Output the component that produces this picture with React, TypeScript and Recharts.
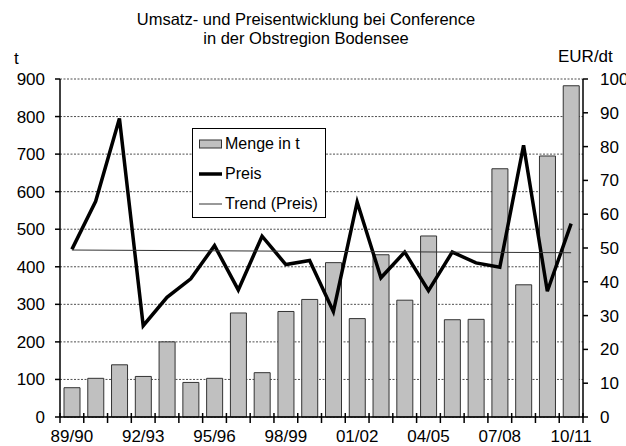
import {
  ComposedChart,
  Bar,
  Line,
  XAxis,
  YAxis,
  CartesianGrid,
  Legend,
} from 'recharts';

const SEASONS = [
  '89/90', '90/91', '91/92', '92/93', '93/94', '94/95', '95/96', '96/97',
  '97/98', '98/99', '99/00', '00/01', '01/02', '02/03', '03/04', '04/05',
  '05/06', '06/07', '07/08', '08/09', '09/10', '10/11',
];

// Menge in t (left axis)
const MENGE = [
  78, 103, 139, 108, 200, 92, 103, 277, 118, 281, 313, 411, 262, 432, 311,
  482, 259, 260, 661, 352, 695, 882,
];

// Preis in EUR/dt (right axis)
const PREIS = [
  49.6, 63.8, 88.3, 27.0, 35.4, 40.9, 50.7, 37.6, 53.5, 45.1, 46.3, 31.2,
  63.6, 41.2, 48.8, 37.4, 48.8, 45.6, 44.3, 80.4, 37.2, 57.2,
];

// linear trend of the price, read at its two ends
const TREND_START = 49.4;
const TREND_END = 48.6;

const LEFT_TICKS = [0, 100, 200, 300, 400, 500, 600, 700, 800, 900];
const RIGHT_TICKS = [0, 10, 20, 30, 40, 50, 60, 70, 80, 90, 100];

const FONT = '"Liberation Sans", Arial, sans-serif';
const PLOT_LEFT = 60;
const PLOT_RIGHT = 583;
const BAND = (PLOT_RIGHT - PLOT_LEFT) / SEASONS.length;

const data = SEASONS.map((season, i) => ({
  season,
  menge: MENGE[i],
  preis: PREIS[i],
  trend: i === 0 ? TREND_START : i === SEASONS.length - 1 ? TREND_END : null,
}));

function SeasonTick(props: any) {
  const { x, y, index, payload } = props;
  const last = index === SEASONS.length - 1;
  return (
    <g>
      <line x1={x - BAND / 2} x2={x - BAND / 2} y1={y - 4} y2={y + 6} stroke="#000" strokeWidth={1.5} />
      {last && (
        <line x1={x + BAND / 2} x2={x + BAND / 2} y1={y - 4} y2={y + 6} stroke="#000" strokeWidth={1.5} />
      )}
      {index % 3 === 0 && (
        <text x={x} y={y + 25} textAnchor="middle" fontSize={17} fontFamily={FONT} fill="#000">
          {payload.value}
        </text>
      )}
    </g>
  );
}

function LegendBox() {
  const row = { display: 'flex', alignItems: 'center', height: 30 } as const;
  return (
    <div
      style={{
        width: 134,
        height: 90,
        boxSizing: 'border-box',
        border: '1px solid #000',
        background: '#fff',
        fontFamily: FONT,
        fontSize: 16,
        color: '#000',
        paddingLeft: 6,
      }}
    >
      <div style={row}>
        <svg width={24} height={10} style={{ marginRight: 2 }}>
          <rect x={0.5} y={1} width={22} height={8} fill="#c0c0c0" stroke="#333" />
        </svg>
        Menge in t
      </div>
      <div style={row}>
        <svg width={24} height={10} style={{ marginRight: 2 }}>
          <line x1={0} x2={23} y1={5} y2={5} stroke="#000" strokeWidth={3.5} />
        </svg>
        Preis
      </div>
      <div style={row}>
        <svg width={24} height={10} style={{ marginRight: 2 }}>
          <line x1={0} x2={23} y1={5} y2={5} stroke="#333" strokeWidth={1} />
        </svg>
        Trend (Preis)
      </div>
    </div>
  );
}

export default function App() {
  return (
    <div style={{ position: 'absolute', left: 0, top: 0, width: 626, height: 446, background: '#fff', overflow: 'hidden' }}>
      <div
        style={{
          position: 'absolute',
          left: 0,
          top: 10,
          width: 612,
          textAlign: 'center',
          fontFamily: FONT,
          fontSize: 16.5,
          lineHeight: '19px',
          color: '#000',
        }}
      >
        Umsatz- und Preisentwicklung bei Conference
        <br />
        in der Obstregion Bodensee
      </div>
      <div style={{ position: 'absolute', left: 14, top: 49, fontFamily: FONT, fontSize: 17, lineHeight: '19px' }}>t</div>
      <div style={{ position: 'absolute', left: 558, top: 47, fontFamily: FONT, fontSize: 17, lineHeight: '19px' }}>
        EUR/dt
      </div>
      <ComposedChart
        width={626}
        height={446}
        data={data}
        margin={{ top: 79, right: 0, bottom: 0, left: 0 }}
        barSize={16}
        style={{ position: 'absolute', left: 0, top: 0 }}
      >
        <CartesianGrid yAxisId="left" vertical={false} stroke="#222" strokeDasharray="2 1.5" strokeWidth={0.8} />
        <XAxis
          dataKey="season"
          interval={0}
          height={29}
          tickSize={0}
          tickMargin={0}
          tickLine={false}
          axisLine={{ stroke: '#000', strokeWidth: 1.5 }}
          tick={<SeasonTick />}
        />
        <YAxis
          yAxisId="left"
          domain={[0, 900]}
          ticks={LEFT_TICKS}
          width={60}
          tickSize={5}
          tickMargin={10}
          axisLine={{ stroke: '#000', strokeWidth: 1.5 }}
          tickLine={{ stroke: '#000', strokeWidth: 1.5 }}
          tick={{ fill: '#000', fontSize: 17, fontFamily: FONT }}
        />
        <YAxis
          yAxisId="right"
          orientation="right"
          domain={[0, 100]}
          ticks={RIGHT_TICKS}
          width={43}
          tickSize={5}
          tickMargin={12}
          axisLine={{ stroke: '#000', strokeWidth: 1.5 }}
          tickLine={{ stroke: '#000', strokeWidth: 1.5 }}
          tick={{ fill: '#000', fontSize: 17, fontFamily: FONT, textAnchor: 'start' }}
        />
        <Legend
          layout="vertical"
          align="center"
          verticalAlign="middle"
          wrapperStyle={{ left: 192, top: 128, width: 134, height: 90 }}
          content={() => <LegendBox />}
        />
        <Bar
          yAxisId="left"
          dataKey="menge"
          name="Menge in t"
          fill="#c0c0c0"
          stroke="#333"
          strokeWidth={1}
          isAnimationActive={false}
        />
        <Line
          yAxisId="right"
          dataKey="preis"
          name="Preis"
          type="linear"
          stroke="#000"
          strokeWidth={3.5}
          dot={false}
          isAnimationActive={false}
        />
        <Line
          yAxisId="right"
          dataKey="trend"
          name="Trend (Preis)"
          type="linear"
          stroke="#333"
          strokeWidth={1}
          dot={false}
          connectNulls
          isAnimationActive={false}
        />
      </ComposedChart>
    </div>
  );
}
